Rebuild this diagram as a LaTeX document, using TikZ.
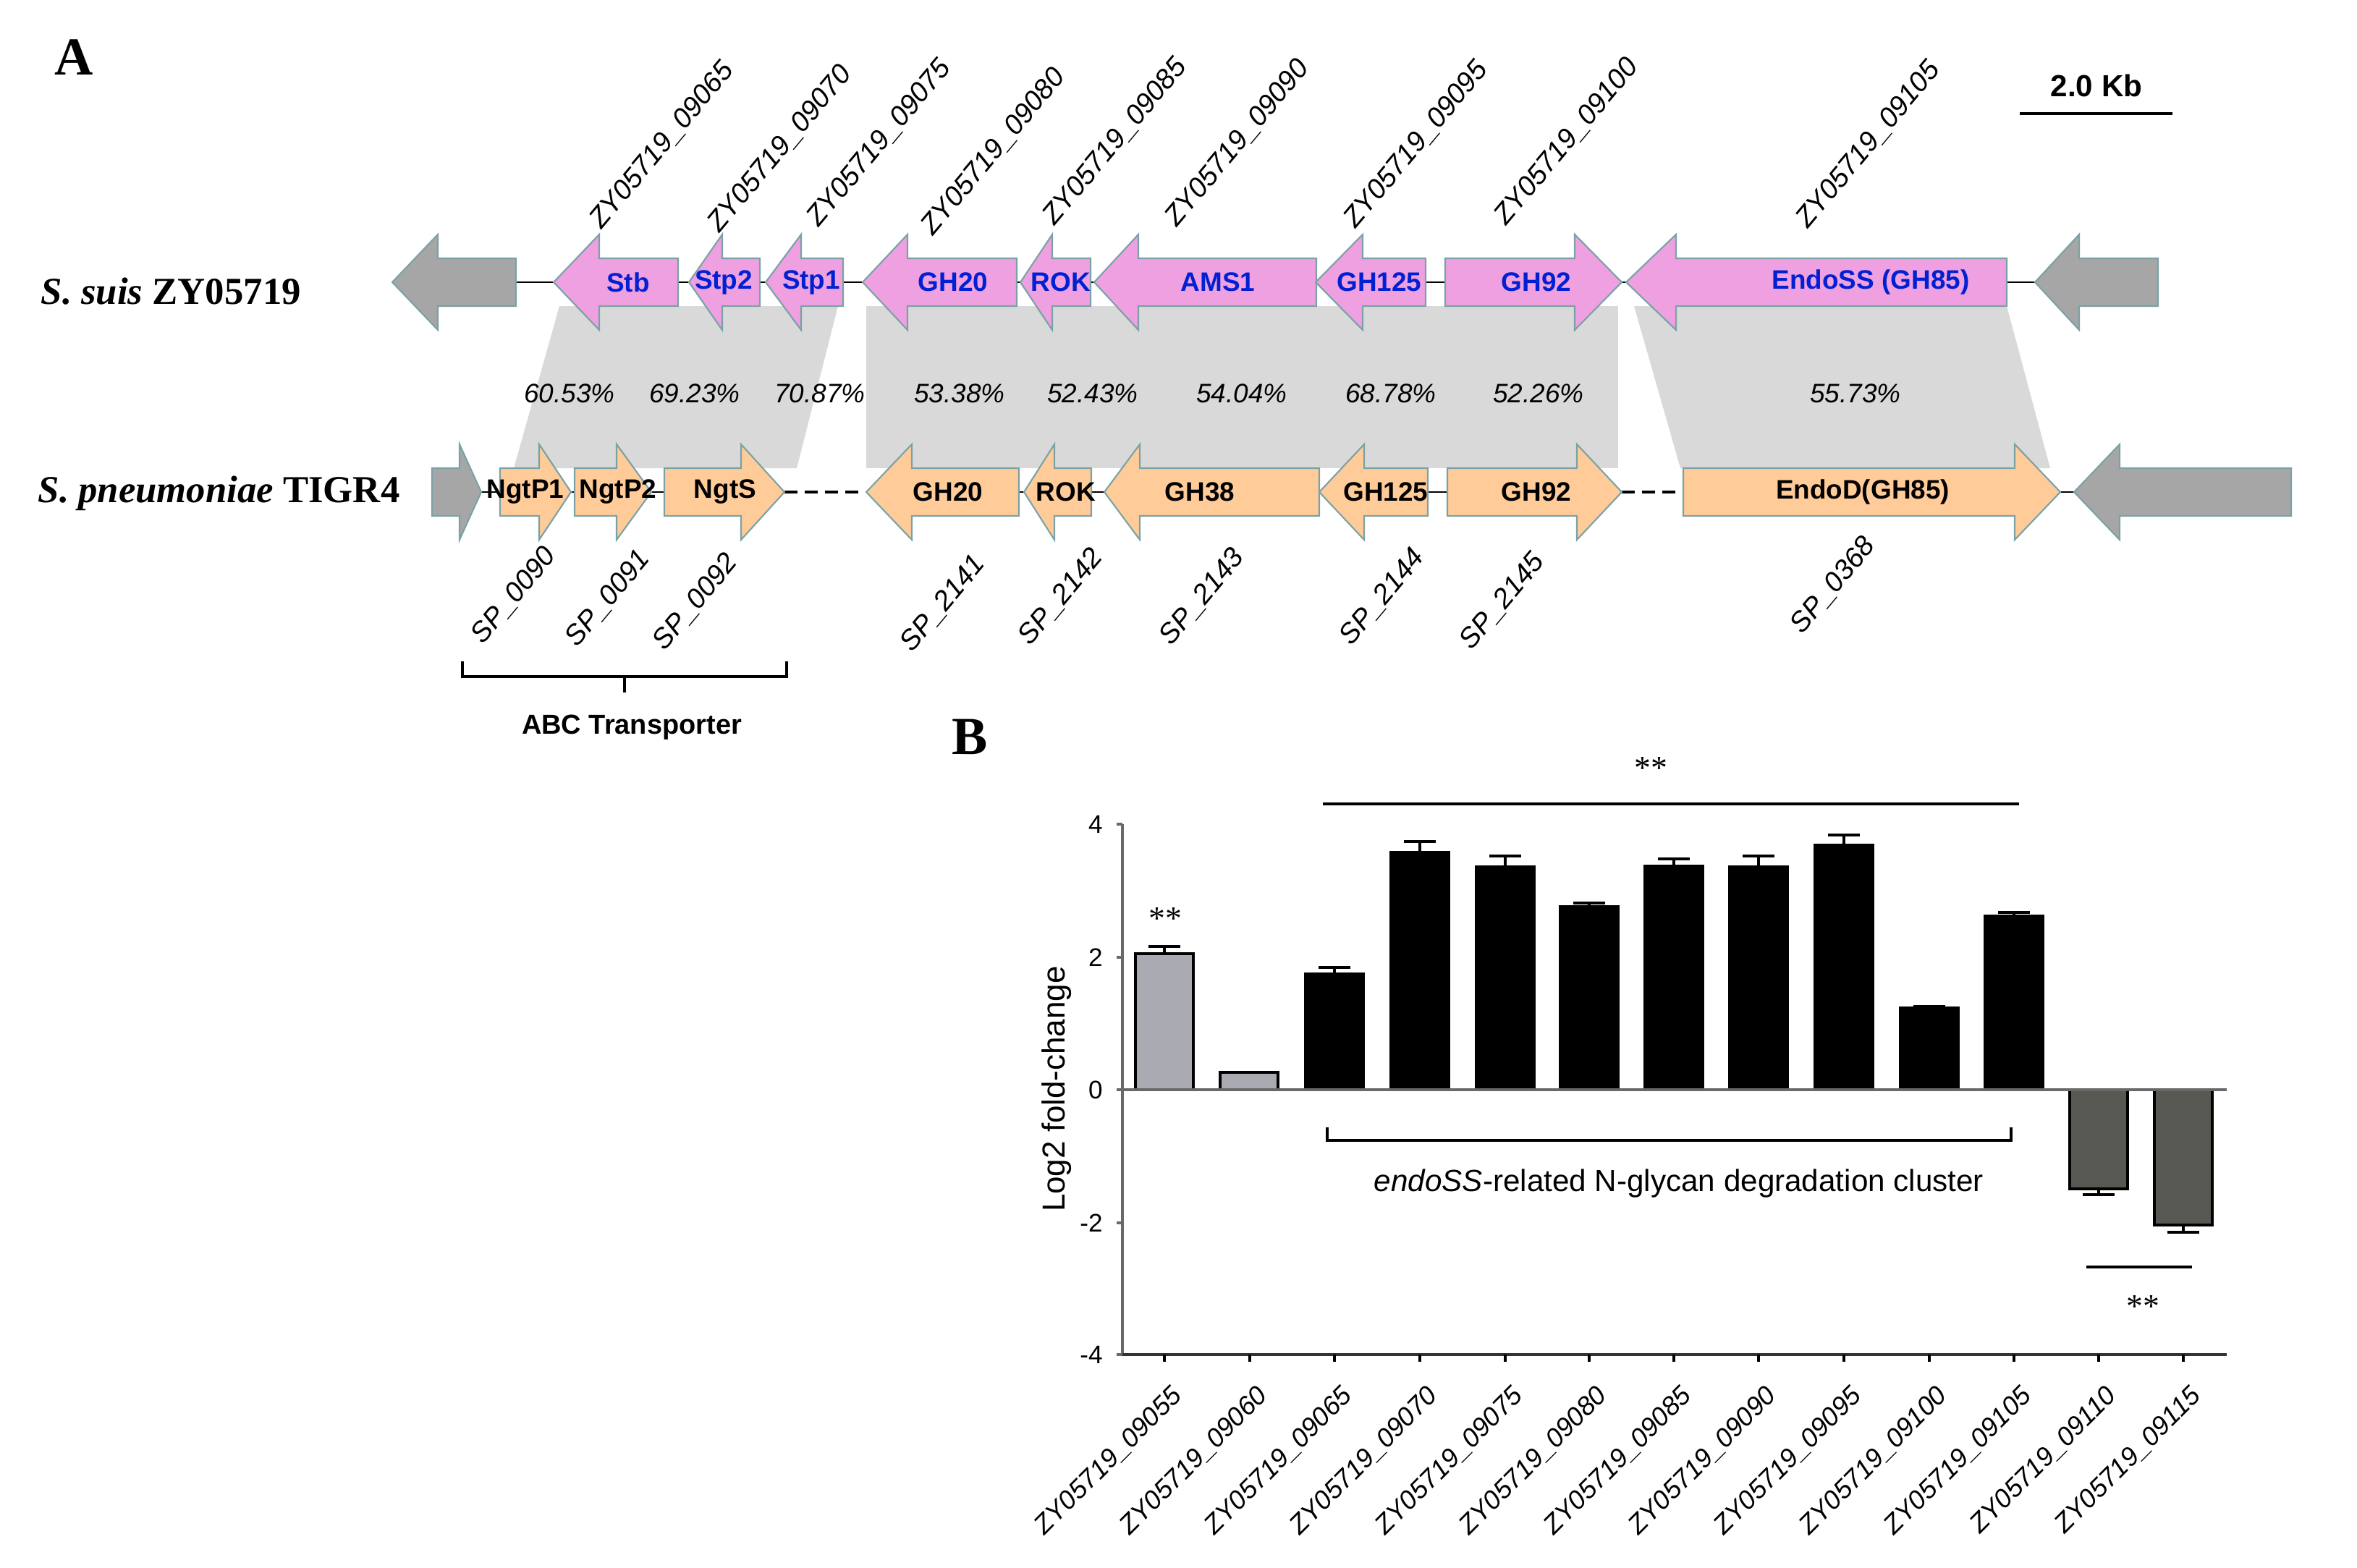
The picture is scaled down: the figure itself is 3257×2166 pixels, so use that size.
\documentclass[tikz,border=0pt]{standalone}
\usepackage{fontspec}
\setmainfont{Liberation Sans}
\newfontfamily\timesfont{Liberation Serif}
\usetikzlibrary{positioning}

\definecolor{suispink}{RGB}{238,160,224}
\definecolor{pneuorange}{RGB}{255,204,153}
\definecolor{flankgrey}{RGB}{166,166,166}
\definecolor{edgeteal}{RGB}{122,162,166}
\definecolor{bandgrey}{RGB}{217,217,217}
\definecolor{labelblue}{RGB}{0,32,210}
\definecolor{barlight}{RGB}{170,170,178}
\definecolor{bardark}{RGB}{88,88,82}
\definecolor{axisgrey}{RGB}{105,105,105}

% tail x, head base x, tip x, row y
\newcommand{\genearrow}[5][]{%
  \draw[#1] (#2,#5-33) -- (#3,#5-33) -- (#3,#5-66) -- (#4,#5) -- (#3,#5+66) -- (#3,#5+33) -- (#2,#5+33) -- cycle;}

\begin{document}
\begin{tikzpicture}[x=0.01cm, y=-0.01cm,
    suis/.style={fill=suispink, draw=edgeteal, line width=0.6pt},
    pneu/.style={fill=pneuorange, draw=edgeteal, line width=0.6pt},
    flank/.style={fill=flankgrey, draw=edgeteal, line width=0.6pt},
    band/.style={fill=bandgrey},
    spine/.style={line width=0.8pt},
    gap/.style={line width=1.2pt, dash pattern=on 5pt off 3pt},
    suisname/.style={font=\fontsize{10.5}{12}\selectfont\bfseries, text=labelblue, inner sep=0pt},
    pneuname/.style={font=\fontsize{10.5}{12}\selectfont\bfseries, inner sep=0pt},
    toplocus/.style={font=\fontsize{11}{13}\selectfont\itshape, rotate=50, anchor=base west, inner sep=0pt},
    botlocus/.style={font=\fontsize{11}{13}\selectfont\itshape, rotate=50, anchor=north east, inner sep=0pt},
    ident/.style={font=\fontsize{10.5}{12}\selectfont\itshape},
    strain/.style={font=\timesfont\fontsize{15}{18}\selectfont\bfseries, anchor=base west, inner sep=0pt},
    panel/.style={font=\timesfont\fontsize{21}{24}\selectfont\bfseries},
    stars/.style={font=\timesfont\fontsize{13}{15}\selectfont},
    lightbar/.style={fill=barlight, draw=black, line width=1pt},
    blackbar/.style={fill=black, draw=black, line width=1pt},
    darkbar/.style={fill=bardark, draw=black, line width=1pt},
    errbar/.style={line width=1.3pt},
    axis/.style={draw=axisgrey, line width=0.9pt},
    ticklbl/.style={font=\fontsize{10}{12}\selectfont, anchor=east},
    genelbl/.style={font=\fontsize{10.4}{12}\selectfont\itshape, rotate=45, anchor=north east, inner sep=0pt}]

\useasboundingbox (0,0) rectangle (3257,2166);

\node[panel] (lblA) at (102,79) {A};
\node[panel] (lblB) at (1340,1018) {B};

\node[strain] (suis) at (56,420) {\textit{S. suis} ZY05719};
\node[strain] (pneu) at (52,694) {\textit{S. pneumoniae} TIGR4};

\fill[band] (773,423) -- (1158,423) -- (1101,647) -- (710,647) -- cycle;
\fill[band] (1197,423) -- (2236,423) -- (2236,647) -- (1197,647) -- cycle;
\fill[band] (2258,423) -- (2773,423) -- (2833,647) -- (2322,647) -- cycle;

\draw[spine] (713,390) -- (2812,390);
\draw[spine] (597,680) -- (1084,680);
\draw[gap] (1084,680) -- (1197,680);
\draw[spine] (1197,680) -- (2241,680);
\draw[gap] (2241,680) -- (2326,680);
\draw[spine] (2326,680) -- (3166,680);

\genearrow[flank]{713}{605}{542}{390}
\genearrow[suis]{937}{828}{765}{390}
\genearrow[suis]{1050}{998}{952}{390}
\genearrow[suis]{1165}{1107}{1058}{390}
\genearrow[suis]{1405}{1254}{1192}{390}
\genearrow[suis]{1507}{1454}{1410}{390}
\genearrow[suis]{1819}{1573}{1512}{390}
\genearrow[suis]{1970}{1883}{1818}{390}
\genearrow[suis]{1997}{2176}{2241}{390}
\genearrow[suis]{2773}{2316}{2247}{390}
\genearrow[flank]{2982}{2873}{2812}{390}

\genearrow[flank]{597}{635}{665}{680}
\genearrow[pneu]{691}{745}{789}{680}
\genearrow[pneu]{794}{852}{900}{680}
\genearrow[pneu]{918}{1024}{1084}{680}
\genearrow[pneu]{1408}{1260}{1197}{680}
\genearrow[pneu]{1508}{1457}{1415}{680}
\genearrow[pneu]{1823}{1575}{1526}{680}
\genearrow[pneu]{1973}{1885}{1823}{680}
\genearrow[pneu]{2000}{2179}{2241}{680}
\genearrow[pneu]{2326}{2784}{2847}{680}
\genearrow[flank]{3166}{2929}{2866}{680}

\node[suisname] (stb) at (868,390) {Stb};
\node[suisname] (stp2) at (1000,390) {Stp2};
\node[suisname] (stp1) at (1121,390) {Stp1};
\node[suisname] (gh20a) at (1317,390) {GH20};
\node[suisname] (roka) at (1466,390) {ROK};
\node[suisname] (ams1) at (1683,390) {AMS1};
\node[suisname] (gh125a) at (1906,390) {GH125};
\node[suisname] (gh92a) at (2123,390) {GH92};
\node[suisname] (endoss) at (2585,390) {EndoSS (GH85)};

\node[pneuname] (ngtp1) at (726,680) {NgtP1};
\node[pneuname] (ngtp2) at (854,680) {NgtP2};
\node[pneuname] (ngts) at (1002,680) {NgtS};
\node[pneuname] (gh20b) at (1310,680) {GH20};
\node[pneuname] (rokb) at (1473,680) {ROK};
\node[pneuname] (gh38) at (1658,680) {GH38};
\node[pneuname] (gh125b) at (1915,680) {GH125};
\node[pneuname] (gh92b) at (2123,680) {GH92};
\node[pneuname] (endod) at (2574,680) {EndoD(GH85)};

\node[toplocus] (t65) at (831,318) {ZY05719\_09065};
\node[toplocus] (t70) at (994,323) {ZY05719\_09070};
\node[toplocus] (t75) at (1131,315) {ZY05719\_09075};
\node[toplocus] (t80) at (1289,327) {ZY05719\_09080};
\node[toplocus] (t85) at (1457,313) {ZY05719\_09085};
\node[toplocus] (t90) at (1626,315) {ZY05719\_09090};
\node[toplocus] (t95) at (1873,317) {ZY05719\_09095};
\node[toplocus] (t100) at (2081,313) {ZY05719\_09100};
\node[toplocus] (t105) at (2498,317) {ZY05719\_09105};

\node[botlocus] (sp0090) at (749,751) {SP\_0090};
\node[botlocus] (sp0091) at (879,755) {SP\_0091};
\node[botlocus] (sp0092) at (1000,760) {SP\_0092};
\node[botlocus] (sp2141) at (1342,762) {SP\_2141};
\node[botlocus] (sp2142) at (1505,753) {SP\_2142};
\node[botlocus] (sp2143) at (1700,753) {SP\_2143};
\node[botlocus] (sp2144) at (1949,753) {SP\_2144};
\node[botlocus] (sp2145) at (2115,759) {SP\_2145};
\node[botlocus] (sp0368) at (2572,737) {SP\_0368};

\node[ident] (id1) at (787,544) {60.53\%};
\node[ident] (id2) at (960,544) {69.23\%};
\node[ident] (id3) at (1133,544) {70.87\%};
\node[ident] (id4) at (1326,544) {53.38\%};
\node[ident] (id5) at (1510,544) {52.43\%};
\node[ident] (id6) at (1716,544) {54.04\%};
\node[ident] (id7) at (1922,544) {68.78\%};
\node[ident] (id8) at (2126,544) {52.26\%};
\node[ident] (id9) at (2564,544) {55.73\%};

\node[font=\fontsize{12}{14}\selectfont\bfseries] (kb) at (2897,118) {2.0 Kb};
\draw[line width=1.4pt] (2791,157) -- (3002,157);

\draw[line width=0.9pt] (639,914) -- (639,935) -- (1087,935) -- (1087,914);
\draw[line width=0.9pt] (863,935) -- (863,957);
\node[font=\fontsize{10.8}{13}\selectfont\bfseries] (abc) at (873,1005) {ABC Transporter};

\draw[lightbar] (1569,1506) rectangle (1649,1318);
\draw[lightbar] (1686,1506) rectangle (1766,1482);
\draw[blackbar] (1804,1506) rectangle (1884,1346);
\draw[blackbar] (1922,1506) rectangle (2002,1178);
\draw[blackbar] (2040,1506) rectangle (2120,1198);
\draw[blackbar] (2156,1506) rectangle (2236,1253);
\draw[blackbar] (2273,1506) rectangle (2353,1197);
\draw[blackbar] (2390,1506) rectangle (2470,1198);
\draw[blackbar] (2508,1506) rectangle (2588,1168);
\draw[blackbar] (2626,1506) rectangle (2706,1393);
\draw[blackbar] (2743,1506) rectangle (2823,1266);
\draw[darkbar] (2860,1506) rectangle (2940,1643);
\draw[darkbar] (2977,1506) rectangle (3057,1693);

\draw[errbar] (1609,1318) -- (1609,1308) (1587,1308) -- (1631,1308);
\draw[errbar] (1844,1346) -- (1844,1337) (1822,1337) -- (1866,1337);
\draw[errbar] (1962,1178) -- (1962,1163) (1940,1163) -- (1984,1163);
\draw[errbar] (2080,1198) -- (2080,1183) (2058,1183) -- (2102,1183);
\draw[errbar] (2196,1253) -- (2196,1248) (2174,1248) -- (2218,1248);
\draw[errbar] (2313,1197) -- (2313,1187) (2291,1187) -- (2335,1187);
\draw[errbar] (2430,1198) -- (2430,1183) (2408,1183) -- (2452,1183);
\draw[errbar] (2548,1168) -- (2548,1154) (2526,1154) -- (2570,1154);
\draw[errbar] (2666,1393) -- (2666,1391) (2644,1391) -- (2688,1391);
\draw[errbar] (2783,1266) -- (2783,1261) (2761,1261) -- (2805,1261);
\draw[errbar] (2900,1643) -- (2900,1651) (2878,1651) -- (2922,1651);
\draw[errbar] (3017,1693) -- (3017,1703) (2995,1703) -- (3039,1703);

\draw[axis] (1551,1506) -- (3077,1506);
\draw[axis] (1551,1139) -- (1551,1872);
\draw[axis, draw=black!80] (1551,1872) -- (3077,1872);
\draw[axis] (1543,1139) -- (1551,1139) (1543,1323) -- (1551,1323) (1543,1506) -- (1551,1506)
  (1543,1690) -- (1551,1690) (1543,1872) -- (1551,1872);
\draw[axis, draw=black] (1609,1872) -- (1609,1882) (1727,1872) -- (1727,1882) (1844,1872) -- (1844,1882)
  (1962,1872) -- (1962,1882) (2080,1872) -- (2080,1882) (2196,1872) -- (2196,1882)
  (2313,1872) -- (2313,1882) (2430,1872) -- (2430,1882) (2548,1872) -- (2548,1882)
  (2666,1872) -- (2666,1882) (2783,1872) -- (2783,1882) (2900,1872) -- (2900,1882)
  (3017,1872) -- (3017,1882);

\node[ticklbl] (y4) at (1536,1139) {4};
\node[ticklbl] (y2) at (1536,1323) {2};
\node[ticklbl] (y0) at (1536,1506) {0};
\node[ticklbl] (ym2) at (1536,1690) {-2};
\node[ticklbl] (ym4) at (1536,1872) {-4};
\node[font=\fontsize{12.5}{15}\selectfont, rotate=90] (ylab) at (1460,1505) {Log2 fold-change};

\node[genelbl] (g55) at (1617,1912) {ZY05719\_09055};
\node[genelbl] (g60) at (1735,1912) {ZY05719\_09060};
\node[genelbl] (g65) at (1852,1912) {ZY05719\_09065};
\node[genelbl] (g70) at (1970,1912) {ZY05719\_09070};
\node[genelbl] (g75) at (2088,1912) {ZY05719\_09075};
\node[genelbl] (g80) at (2204,1912) {ZY05719\_09080};
\node[genelbl] (g85) at (2321,1912) {ZY05719\_09085};
\node[genelbl] (g90) at (2438,1912) {ZY05719\_09090};
\node[genelbl] (g95) at (2556,1912) {ZY05719\_09095};
\node[genelbl] (g100) at (2674,1912) {ZY05719\_09100};
\node[genelbl] (g105) at (2791,1912) {ZY05719\_09105};
\node[genelbl] (g110) at (2908,1912) {ZY05719\_09110};
\node[genelbl] (g115) at (3025,1912) {ZY05719\_09115};

\node[stars] (sig55) at (1610,1270) {**};
\draw[line width=1.1pt] (1828,1111) -- (2790,1111);
\node[stars] (sigall) at (2281,1062) {**};
\draw[line width=0.9pt] (1834,1558) -- (1834,1576) -- (2779,1576) -- (2779,1558);
\node[font=\fontsize{12}{14}\selectfont] (cluster) at (2320,1636) {\textit{endoSS}-related N-glycan degradation cluster};
\draw[line width=1.4pt] (2883,1751) -- (3029,1751);
\node[stars] (sigdown) at (2961,1806) {**};
\end{tikzpicture}
\end{document}
